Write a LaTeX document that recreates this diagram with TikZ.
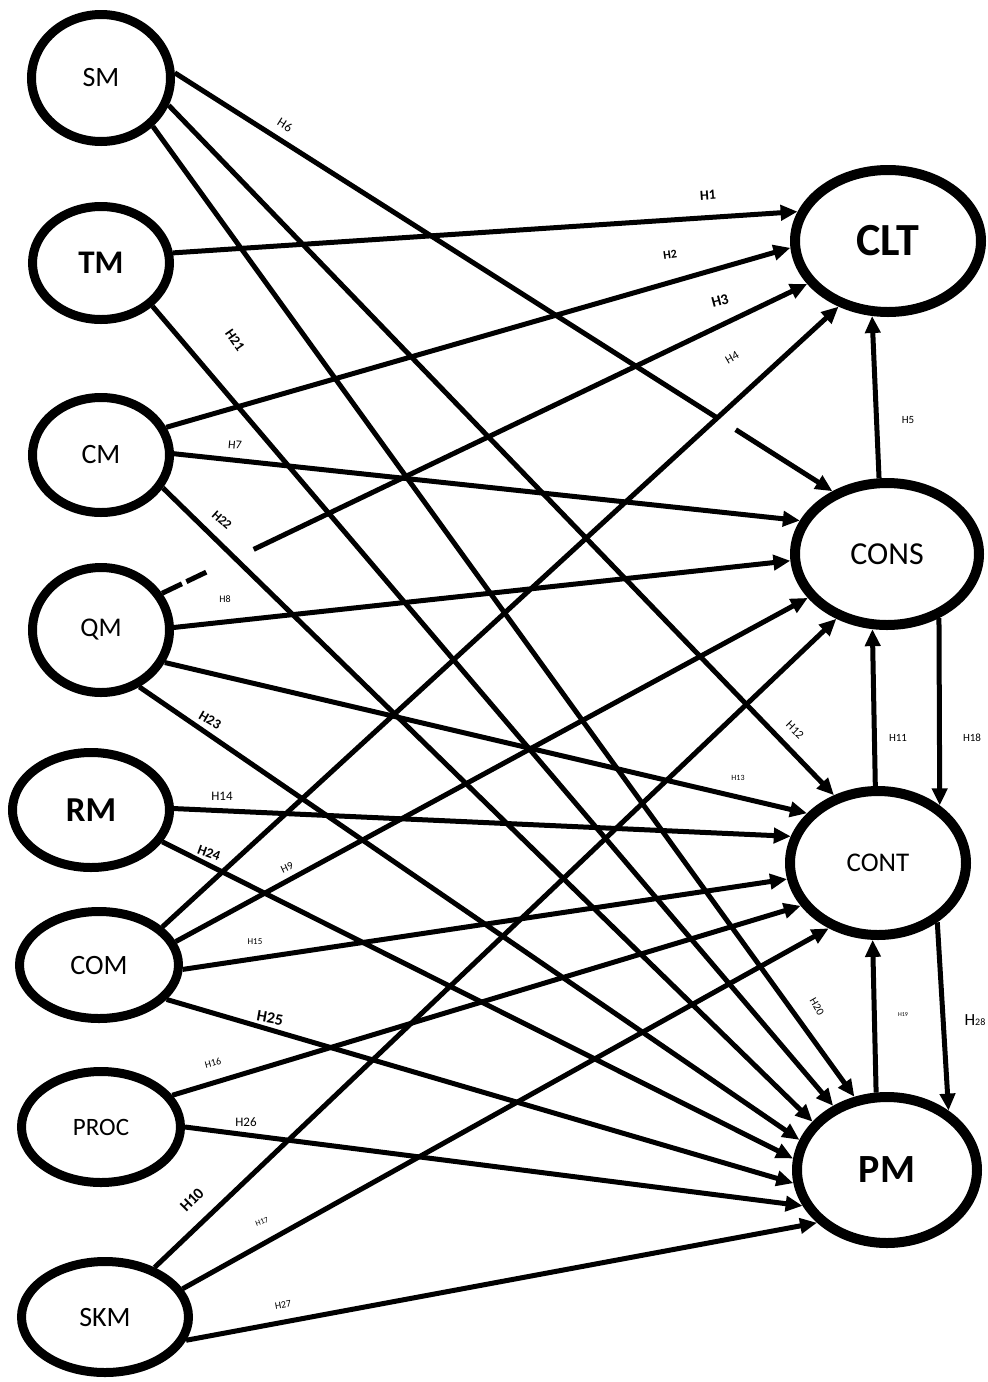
\documentclass[tikz,border=0pt]{standalone}
\usepackage{fontspec}
\setmainfont{Carlito}
\usetikzlibrary{arrows.meta,shapes.geometric,calc}
\newcommand\myfs[1]{\fontsize{#1}{#1}\selectfont}
\begin{document}
\begin{tikzpicture}[x=1pt,y=-1pt,
 lat/.style={ellipse,draw,line width=9pt,inner sep=0pt},
 big/.style={ellipse,draw,line width=10pt,inner sep=0pt},
 edge/.style={line width=5pt,-{Triangle[length=17pt,width=15pt]}},
 seg/.style={line width=5pt},
 lbl/.style={inner sep=0pt}]
\useasboundingbox (0,0) rectangle (988,1382);
\fill[white] (0,0) rectangle (988,1382);
% left nodes
\node[lat,minimum width=139pt,minimum height=127pt,font=\myfs{28}] (SM) at (101,78) {SM};
\node[lat,minimum width=137pt,minimum height=113pt,font=\myfs{33}\bfseries] (TM) at (101,263) {TM};
\node[lat,minimum width=137pt,minimum height=115pt,font=\myfs{28}] (CM) at (101,455) {CM};
\node[lat,minimum width=137pt,minimum height=125pt,font=\myfs{27}] (QM) at (101,630) {QM};
\node[lat,minimum width=157pt,minimum height=115pt,font=\myfs{35}\bfseries] (RM) at (91,810) {RM};
\node[lat,minimum width=159pt,minimum height=107pt,font=\myfs{28}] (COM) at (99,965) {COM};
\node[lat,minimum width=159pt,minimum height=111pt,font=\myfs{25}] (PROC) at (101,1127) {PROC};
\node[lat,minimum width=167pt,minimum height=111pt,font=\myfs{28}] (SKM) at (105,1317) {SKM};
% right nodes
\node[big,minimum width=186pt,minimum height=142pt,font=\myfs{46}\bfseries] (CLT) at (888,241) {CLT};
\node[big,minimum width=184pt,minimum height=142pt,font=\myfs{32}] (CONS) at (887,554) {CONS};
\node[big,minimum width=176pt,minimum height=144pt,font=\myfs{27}] (CONT) at (878,863) {CONT};
\node[big,minimum width=180pt,minimum height=146pt,font=\myfs{40}\bfseries] (PM) at (887,1170) {PM};
% gap coordinates
\coordinate (g6a) at ($(SM.4)!0.827!(CONS.131)$);
\coordinate (g6b) at ($(SM.4)!0.853!(CONS.131)$);
\coordinate (g3a) at ($(QM.31)!0.072!(CLT.208)$);
\coordinate (g3b) at ($(QM.31)!0.142!(CLT.208)$);
% edges
\draw[seg] (SM.4) -- (g6a);
\draw[edge] (g6b) -- (CONS.131);
\draw[edge] (SM.338) -- (CONT.123);
\draw[edge] (SM.317) -- (PM.114);
\draw[edge] (TM.8) -- (CLT.162);
\draw[edge] (TM.320) -- (PM.130);
\draw[edge] (CM.23) -- (CLT.184);
\draw[edge] (CM.1) -- (CONS.159);
\draw[edge] (CM.332) -- (PM.147);
\draw[seg,dash pattern=on 22pt off 5pt] (QM.31) -- (g3a);
\draw[edge] (g3b) -- (CLT.208);
\draw[edge] (QM.2) -- (CONS.184);
\draw[edge] (QM.333) -- (CONT.145);
\draw[edge] (QM.304) -- (PM.161);
\draw[edge] (RM.1) -- (CONT.163);
\draw[edge] (RM.336) -- (PM.173);
\draw[edge] (COM.31) -- (CLT.233);
\draw[edge] (COM.17) -- (CONS.209);
\draw[edge] (COM.357) -- (CONT.190);
\draw[edge] (COM.333) -- (PM.188);
\draw[edge] (PROC.24) -- (CONT.209);
\draw[edge] (PROC.0) -- (PM.203);
\draw[edge] (SKM.45) -- (CONS.232);
\draw[edge] (SKM.20) -- (CONT.233);
\draw[edge] (SKM.344) -- (PM.217);
\draw[edge] (CONS.96) -- (CLT.258);
\draw[edge] (CONT.92) -- (CONS.259);
\draw[edge] (CONS.309) -- (CONT.43);
\draw[edge] (PM.98) -- (CONT.266);
\draw[edge] (CONT.315) -- (PM.44);
% labels
\node[lbl,font=\myfs{13},rotate=-32] (l6) at (285,125) {H6};
\node[lbl,font=\myfs{14}\bfseries,rotate=4] (l1) at (708,195) {H1};
\node[lbl,font=\myfs{12}\bfseries,rotate=8] (l2) at (670,255) {H2};
\node[lbl,font=\myfs{15}\bfseries,rotate=15] (l3) at (720,301) {H3};
\node[lbl,font=\myfs{12},rotate=30] (l4) at (732,358) {H4};
\node[lbl,font=\myfs{11}] (l5) at (908,420) {H5};
\node[lbl,font=\myfs{14}\bfseries,rotate=-55] (l21) at (235,340) {H21};
\node[lbl,font=\myfs{12},rotate=-5] (l7) at (235,445) {H7};
\node[lbl,font=\myfs{13}\bfseries,rotate=-42] (l22) at (222,520) {H22};
\node[lbl,font=\myfs{10}] (l8) at (225,599) {H8};
\node[lbl,font=\myfs{14}\bfseries,rotate=-30] (l23) at (210,720) {H23};
\node[lbl,font=\myfs{13}] (l14) at (222,796) {H14};
\node[lbl,font=\myfs{14}\bfseries,rotate=-20] (l24) at (209,853) {H24};
\node[lbl,font=\myfs{11},rotate=25] (l9) at (287,868) {H9};
\node[lbl,font=\myfs{9}] (l15) at (255,942) {H15};
\node[lbl,font=\myfs{16}\bfseries,rotate=-10] (l25) at (270,1018) {H25};
\node[lbl,font=\myfs{10},rotate=15] (l16) at (213,1063) {H16};
\node[lbl,font=\myfs{13}] (l26) at (246,1122) {H26};
\node[lbl,font=\myfs{16}\bfseries,rotate=45] (l10) at (192,1200) {H10};
\node[lbl,font=\myfs{8},rotate=20] (l17) at (262,1222) {H17};
\node[lbl,font=\myfs{10},rotate=10] (l27) at (283,1305) {H27};
\node[lbl,font=\myfs{12},rotate=-45] (l12) at (795,730) {H12};
\node[lbl,font=\myfs{8}] (l13) at (738,778) {H13};
\node[lbl,font=\myfs{11}] (l11) at (898,738) {H11};
\node[lbl,font=\myfs{11}] (l18) at (972,738) {H18};
\node[lbl,font=\myfs{11},rotate=-60] (l20) at (817,1007) {H20};
\node[lbl,font=\myfs{6}] (l19) at (903,1015) {H19};
\node[lbl] (l28) at (975,1020) {{\myfs{17}H}{\myfs{10}28}};
\end{tikzpicture}
\end{document}
